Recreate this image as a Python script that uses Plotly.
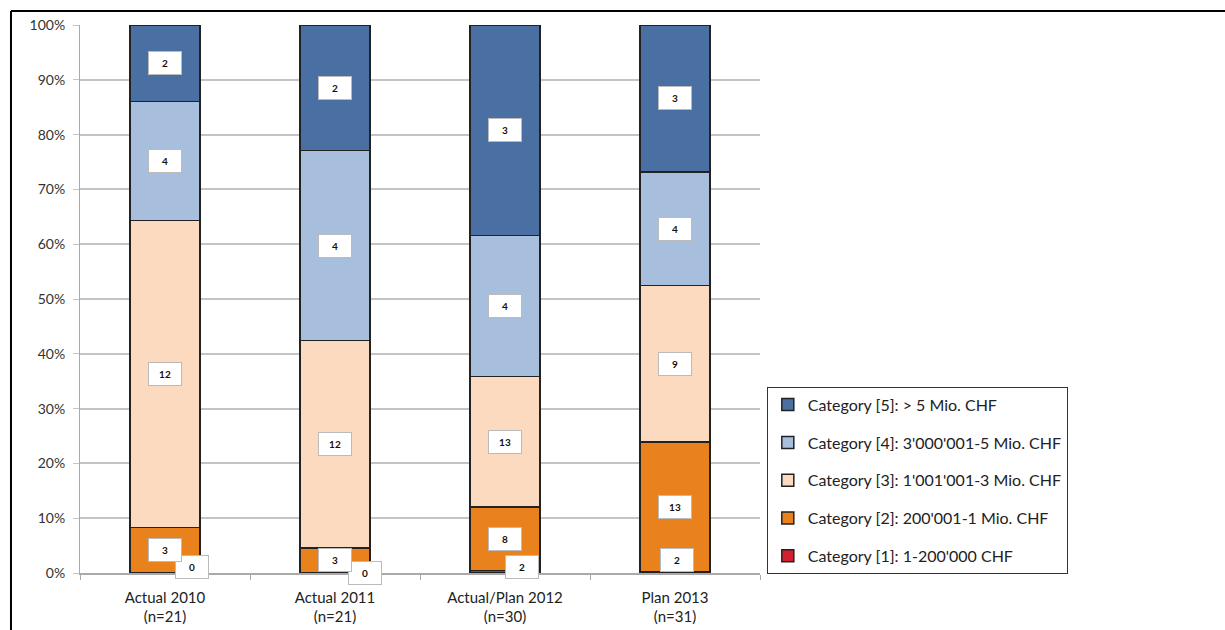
import plotly.graph_objects as go

# ---------------- data ----------------
categories = ["Actual 2010<br>(n=21)", "Actual 2011<br>(n=21)",
              "Actual/Plan 2012<br>(n=30)", "Plan 2013<br>(n=31)"]
series_names = ["Category [1]: 1-200'000 CHF",
                "Category [2]: 200'001-1 Mio. CHF",
                "Category [3]: 1'001'001-3 Mio. CHF",
                "Category [4]: 3'000'001-5 Mio. CHF",
                "Category [5]: > 5 Mio. CHF"]
# share of each category (percent)
cat1_pct = [0.0, 0.0, 0.5, 0.3]
cat2_pct = [8.3, 4.6, 11.5, 23.6]
cat3_pct = [56.0, 37.8, 23.9, 28.6]
cat4_pct = [21.7, 34.7, 25.7, 20.7]
cat5_pct = [14.0, 22.9, 38.4, 26.8]
# counts shown as labels
cat1_n = [0, 0, 2, 2]
cat2_n = [3, 3, 8, 13]
cat3_n = [12, 12, 13, 9]
cat4_n = [4, 4, 4, 4]
cat5_n = [2, 2, 3, 3]
y_ticks = [0, 10, 20, 30, 40, 50, 60, 70, 80, 90, 100]
y_tick_labels = ["0%", "10%", "20%", "30%", "40%", "50%", "60%", "70%", "80%", "90%", "100%"]

# ---------------- style ----------------
colors = ["#D32030", "#E9821C", "#FBDAC0", "#A7BEDD", "#4A6FA3"]
FONT = "Lato"
# pixel shifts for the bottom (category 1) labels
cat1_xshift = [27, 30, 17, 2]
cat1_yshift = [6, 0, 6, 13]

pcts = [cat1_pct, cat2_pct, cat3_pct, cat4_pct, cat5_pct]
counts = [cat1_n, cat2_n, cat3_n, cat4_n, cat5_n]

fig = go.Figure()
for i in range(5):
    fig.add_trace(go.Bar(
        x=categories, y=pcts[i], name=series_names[i],
        legendgroup=f"g{i}", legendrank=1000 - 10 * i,
        marker=dict(color=colors[i], line=dict(color="#222222", width=1.5)),
        width=0.41, hoverinfo="skip"))

annotations = []
for j, cat in enumerate(categories):
    base = 0.0
    for i in range(5):
        v = pcts[i][j]
        mid = base + v / 2
        base += v
        if i == 0:
            annotations.append(dict(x=cat, y=0, xref="x", yref="y",
                                    text=f"<b>{counts[i][j]}</b>", showarrow=False,
                                    xshift=cat1_xshift[j], yshift=cat1_yshift[j]))
        else:
            annotations.append(dict(x=cat, y=mid, xref="x", yref="y",
                                    text=f"<b>{counts[i][j]}</b>", showarrow=False))
for a in annotations:
    a.update(bgcolor="white", bordercolor="#BBBBBB", borderwidth=1,
             width=30, height=20, font=dict(family=FONT, size=10, color="#111"))

fig.update_layout(
    barmode="stack",
    width=1225, height=630,
    margin=dict(l=80, r=465, t=25, b=57),
    paper_bgcolor="white", plot_bgcolor="white",
    font=dict(family=FONT, color="#222"),
    showlegend=True,
    legend=dict(x=1.01, y=0.34, xanchor="left", yanchor="top",
                traceorder="grouped", tracegroupgap=14,
                bordercolor="#333333", borderwidth=1,
                font=dict(family=FONT, size=16, color="#222"),
                itemwidth=30),
    annotations=annotations,
    shapes=[
        dict(type="line", xref="paper", yref="paper", x0=-0.1015, x1=1.7,
             y0=1.0255, y1=1.0255, line=dict(color="black", width=2)),
        dict(type="line", xref="paper", yref="paper", x0=-0.1015, x1=-0.1015,
             y0=1.0255, y1=-0.11, line=dict(color="black", width=2)),
    ],
)
fig.update_yaxes(range=[0, 100], tickvals=y_ticks, ticktext=y_tick_labels,
                 showgrid=True, gridcolor="#C4C4C4", gridwidth=1.5,
                 showline=True, linecolor="#AAAAAA", linewidth=1,
                 ticks="outside", ticklen=6, tickcolor="#C4C4C4",
                 ticklabelstandoff=5, automargin=False,
                 tickfont=dict(family=FONT, size=14, color="#333"), zeroline=False)
fig.update_xaxes(showline=True, linecolor="#AAAAAA", linewidth=1.5,
                 ticks="outside", tickson="boundaries", ticklen=5, tickcolor="#AAAAAA",
                 ticklabelstandoff=10, automargin=False,
                 tickfont=dict(family=FONT, size=15, color="#222"))

fig.write_html("out.html")
